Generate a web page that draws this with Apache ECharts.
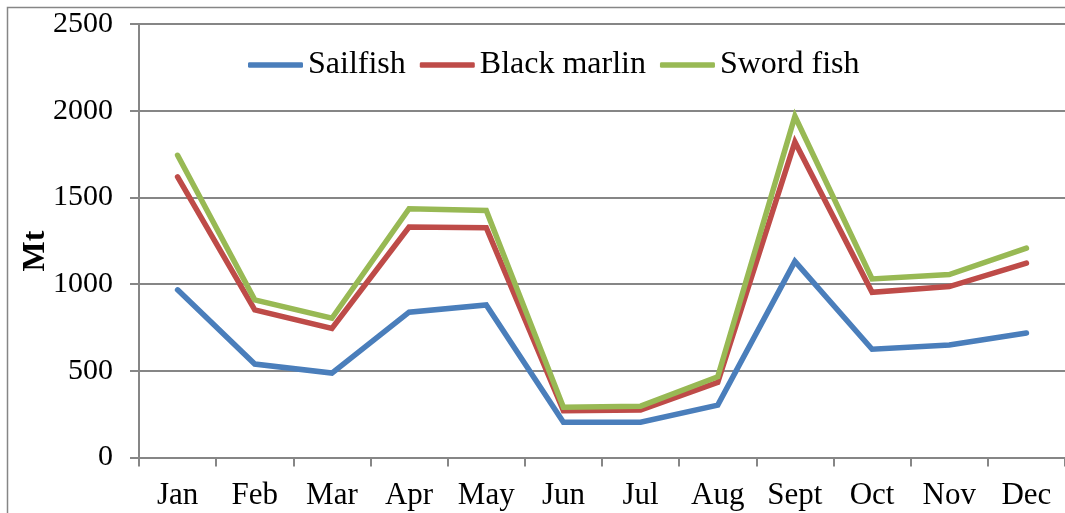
<!DOCTYPE html>
<html>
<head>
<meta charset="utf-8">
<title>Monthly catch</title>
<script src="https://cdn.jsdelivr.net/npm/echarts@6/dist/echarts.min.js"></script>
<style>
  html, body { margin: 0; padding: 0; background: #ffffff; }
  #chart { width: 1065px; height: 513px; }
</style>
</head>
<body>
<div id="chart"></div>
<script>
// Monthly landings (Mt) of three billfish species
const months = ['Jan', 'Feb', 'Mar', 'Apr', 'May', 'Jun', 'Jul', 'Aug', 'Sept', 'Oct', 'Nov', 'Dec'];
const sailfish    = [967, 539, 487, 838, 880, 203, 203, 302, 1131, 624, 649, 718];
const blackMarlin = [1618, 851, 745, 1329, 1325, 270, 274, 433, 1820, 953, 986, 1121];
const swordFish   = [1743, 909, 803, 1435, 1425, 290, 296, 466, 1968, 1030, 1055, 1208];
const yTicks = [0, 500, 1000, 1500, 2000, 2500];
const yTitle = 'Mt';

const FONT = '"Liberation Serif", "Times New Roman", serif';
const AXIS_GREY = '#868686';

const chart = echarts.init(document.getElementById('chart'), null, { renderer: 'canvas' });

function lineSeries(name, data, color) {
  return {
    name: name,
    type: 'line',
    data: data,
    symbol: 'none',
    smooth: false,
    lineStyle: { color: color, width: 5.5, cap: 'round', join: 'miter' },
    itemStyle: { color: color },
    emphasis: { disabled: true }
  };
}

chart.setOption({
  animation: false,
  backgroundColor: '#ffffff',
  textStyle: { fontFamily: FONT },
  graphic: [
    {
      // frame around the chart area
      type: 'rect',
      silent: true,
      shape: { x: 7.5, y: 7.5, width: 1200, height: 700 },
      style: { fill: 'none', stroke: AXIS_GREY, lineWidth: 1.5 }
    },
    {
      // vertical axis title, reading bottom to top
      type: 'text',
      silent: true,
      x: 36,
      y: 251,
      rotation: Math.PI / 2,
      style: {
        text: yTitle,
        fill: '#000000',
        font: 'bold 32px ' + FONT,
        align: 'center',
        verticalAlign: 'middle'
      }
    }
  ],
  legend: {
    left: 248,
    top: 49,
    padding: 0,
    icon: 'roundRect',
    itemWidth: 55,
    itemHeight: 5.5,
    itemGap: 14,
    textStyle: { fontFamily: FONT, fontSize: 32, color: '#000000' },
    data: ['Sailfish', 'Black marlin', 'Sword fish']
  },
  grid: { left: 139, top: 24, width: 936, height: 433.5, containLabel: false },
  xAxis: {
    type: 'category',
    data: months,
    boundaryGap: true,
    axisLine: { show: true, lineStyle: { color: AXIS_GREY, width: 2 } },
    axisTick: { show: true, alignWithLabel: false, length: 9, lineStyle: { color: AXIS_GREY, width: 2 } },
    axisLabel: { fontFamily: FONT, fontSize: 31, color: '#000000', margin: 23 },
    splitLine: { show: false }
  },
  yAxis: {
    type: 'value',
    min: yTicks[0],
    max: yTicks[yTicks.length - 1],
    interval: 500,
    axisLine: { show: true, lineStyle: { color: AXIS_GREY, width: 2 } },
    axisTick: { show: true, inside: false, length: 9, lineStyle: { color: AXIS_GREY, width: 2 } },
    axisLabel: {
      fontFamily: FONT, fontSize: 30, color: '#000000', margin: 26,
      formatter: function (v) { return String(v); }
    },
    splitLine: { show: true, lineStyle: { color: AXIS_GREY, width: 2 } }
  },
  series: [
    lineSeries('Sailfish', sailfish, '#4a7ebb'),
    lineSeries('Black marlin', blackMarlin, '#be4b48'),
    lineSeries('Sword fish', swordFish, '#98b954')
  ]
});
</script>
</body>
</html>
